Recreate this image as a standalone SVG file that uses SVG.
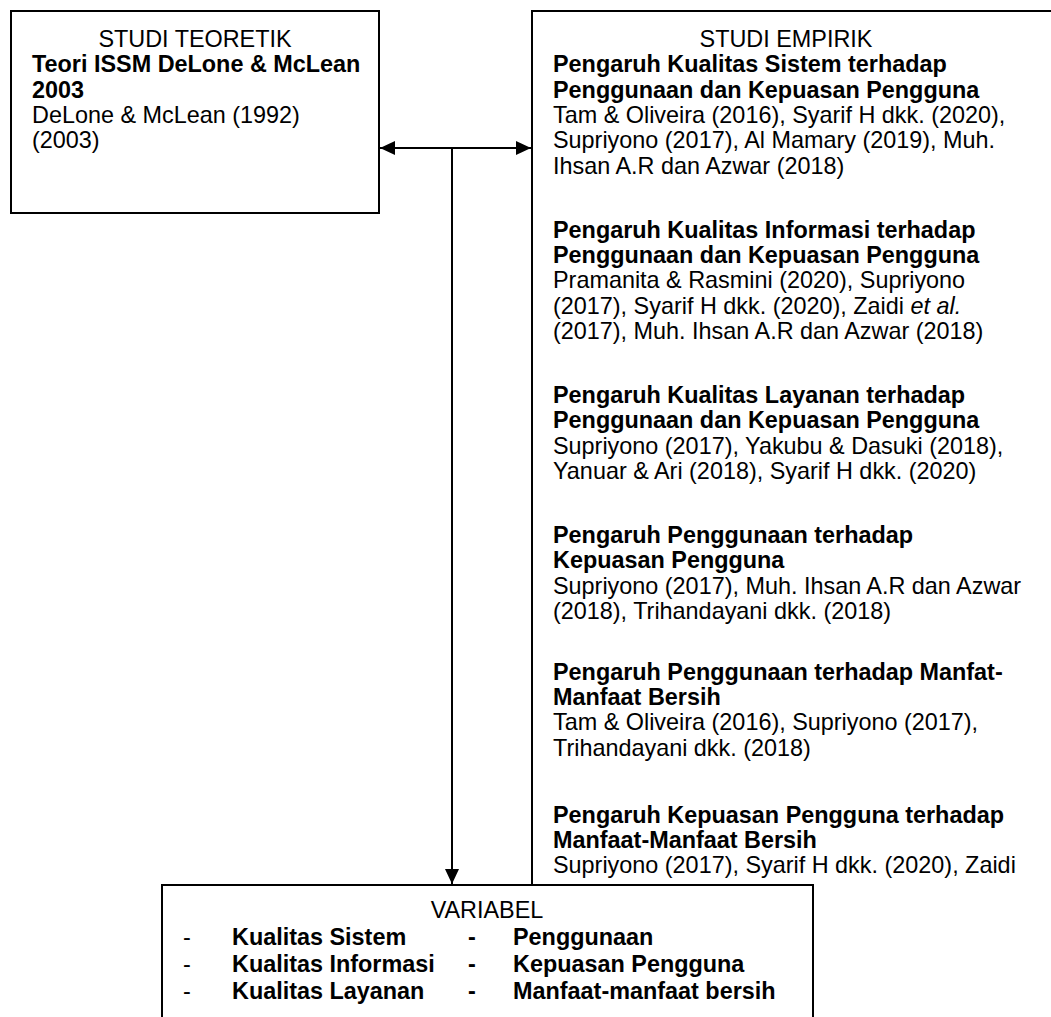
<svg xmlns="http://www.w3.org/2000/svg" width="1051" height="1017" viewBox="0 0 1051 1017">
<style>
.box{fill:#fff;stroke:#000;stroke-width:2}
.t{font-family:"Liberation Sans",Arial,sans-serif;font-size:23.4px;fill:#000}
.b{font-weight:bold}
.c{text-anchor:middle}
.conn{stroke:#000;stroke-width:2;fill:none}
</style>
<defs>
<marker id="ah" markerUnits="userSpaceOnUse" markerWidth="16" markerHeight="14" refX="15" refY="7" orient="auto-start-reverse">
<path d="M0,0 L15,7 L0,14 z" fill="#000"/>
</marker>
</defs>
<g id="studi-teoretik">
<rect class="box" x="11" y="11" width="368" height="202"/>
<text class="t c" x="195" y="47">STUDI TEORETIK</text>
<text class="t b" x="32" y="72">Teori ISSM DeLone &amp; McLean</text>
<text class="t b" x="32" y="98">2003</text>
<text class="t" x="32" y="123">DeLone &amp; McLean (1992)</text>
<text class="t" x="32" y="148">(2003)</text>
</g>
<g id="studi-empirik">
<rect class="box" x="532" y="11" width="540" height="1030"/>
<text class="t c" x="786" y="47">STUDI EMPIRIK</text>
<text class="t b" x="553" y="72">Pengaruh Kualitas Sistem terhadap</text>
<text class="t b" x="553" y="98">Penggunaan dan Kepuasan Pengguna</text>
<text class="t" x="553" y="123">Tam &amp; Oliveira (2016), Syarif H dkk. (2020),</text>
<text class="t" x="553" y="148">Supriyono (2017), Al Mamary (2019), Muh.</text>
<text class="t" x="553" y="174">Ihsan A.R dan Azwar (2018)</text>
<text class="t b" x="553" y="238">Pengaruh Kualitas Informasi terhadap</text>
<text class="t b" x="553" y="263">Penggunaan dan Kepuasan Pengguna</text>
<text class="t" x="553" y="288">Pramanita &amp; Rasmini (2020), Supriyono</text>
<text class="t" x="553" y="314">(2017), Syarif H dkk. (2020), Zaidi <tspan font-style="italic">et al.</tspan></text>
<text class="t" x="553" y="339">(2017), Muh. Ihsan A.R dan Azwar (2018)</text>
<text class="t b" x="553" y="403">Pengaruh Kualitas Layanan terhadap</text>
<text class="t b" x="553" y="428">Penggunaan dan Kepuasan Pengguna</text>
<text class="t" x="553" y="454">Supriyono (2017), Yakubu &amp; Dasuki (2018),</text>
<text class="t" x="553" y="479">Yanuar &amp; Ari (2018), Syarif H dkk. (2020)</text>
<text class="t b" x="553" y="543">Pengaruh Penggunaan terhadap</text>
<text class="t b" x="553" y="568">Kepuasan Pengguna</text>
<text class="t" x="553" y="594">Supriyono (2017), Muh. Ihsan A.R dan Azwar</text>
<text class="t" x="553" y="619">(2018), Trihandayani dkk. (2018)</text>
<text class="t b" x="553" y="680">Pengaruh Penggunaan terhadap Manfat-</text>
<text class="t b" x="553" y="705">Manfaat Bersih</text>
<text class="t" x="553" y="730">Tam &amp; Oliveira (2016), Supriyono (2017),</text>
<text class="t" x="553" y="756">Trihandayani dkk. (2018)</text>
<text class="t b" x="553" y="823">Pengaruh Kepuasan Pengguna terhadap</text>
<text class="t b" x="553" y="848">Manfaat-Manfaat Bersih</text>
<text class="t" x="553" y="873">Supriyono (2017), Syarif H dkk. (2020), Zaidi</text>
</g>
<g id="variabel">
<rect class="box" x="162" y="885" width="651" height="160"/>
<text class="t c" x="487" y="918">VARIABEL</text>
<text class="t" x="183" y="945">-</text>
<text class="t b" x="232" y="945">Kualitas Sistem</text>
<text class="t b" x="468" y="945">-</text>
<text class="t b" x="513" y="945">Penggunaan</text>
<text class="t" x="183" y="972">-</text>
<text class="t b" x="232" y="972">Kualitas Informasi</text>
<text class="t b" x="468" y="972">-</text>
<text class="t b" x="513" y="972">Kepuasan Pengguna</text>
<text class="t" x="183" y="999">-</text>
<text class="t b" x="232" y="999">Kualitas Layanan</text>
<text class="t b" x="468" y="999">-</text>
<text class="t b" x="513" y="999">Manfaat-manfaat bersih</text>
</g>
<g id="connectors">
<line class="conn" x1="380" y1="148" x2="531" y2="148" marker-start="url(#ah)" marker-end="url(#ah)"/>
<line class="conn" x1="452" y1="148" x2="452" y2="884" marker-end="url(#ah)"/>
</g>
</svg>
